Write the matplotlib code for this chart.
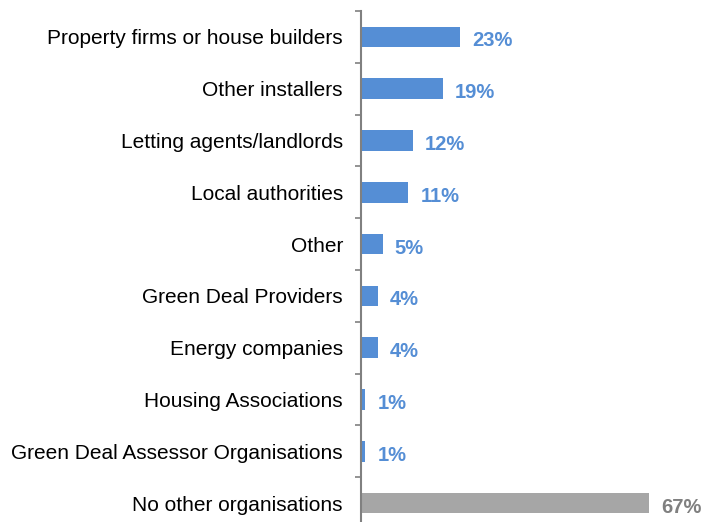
import matplotlib.pyplot as plt
import numpy as np

categories = [
    "Property firms or house builders",
    "Other installers",
    "Letting agents/landlords",
    "Local authorities",
    "Other",
    "Green Deal Providers",
    "Energy companies",
    "Housing Associations",
    "Green Deal Assessor Organisations",
    "No other organisations",
]
values = [23, 19, 12, 11, 5, 4, 4, 1, 1, 67]

blue = "#558ED5"
grey = "#A6A6A6"
bar_colors = [blue] * 9 + [grey]
label_colors = [blue] * 9 + ["#808080"]

plt.rcParams["font.family"] = ["Liberation Sans", "DejaVu Sans"]

fig = plt.figure(figsize=(7.05, 5.22), dpi=100)
ax = fig.add_axes([361 / 705, -7 / 522, 344 / 705, 518 / 522])

y = np.arange(len(categories))
ax.barh(y, values, height=0.4, color=bar_colors)
for yi, v, c in zip(y, values, label_colors):
    ax.text(v + 2.8, yi + 0.04, f"{v}%", va="center_baseline", ha="left",
            fontsize=14.5, fontweight="bold", color=c)

ax.set_xlim(0, 80)
ax.set_ylim(len(categories) - 0.5, -0.5)
ax.set_yticks(y)
ax.set_yticklabels(categories, fontsize=15)
ax.tick_params(axis="y", which="major", length=0, pad=13)
ax.set_yticks(np.arange(-0.5, len(categories)), minor=True)
ax.tick_params(axis="y", which="minor", length=4.5, width=1.2, color="#808080")
ax.set_xticks([])

for side in ["top", "right", "bottom"]:
    ax.spines[side].set_visible(False)
ax.spines["left"].set_color("#808080")
ax.spines["left"].set_linewidth(1.5)

fig.savefig("out.png", dpi=100)
